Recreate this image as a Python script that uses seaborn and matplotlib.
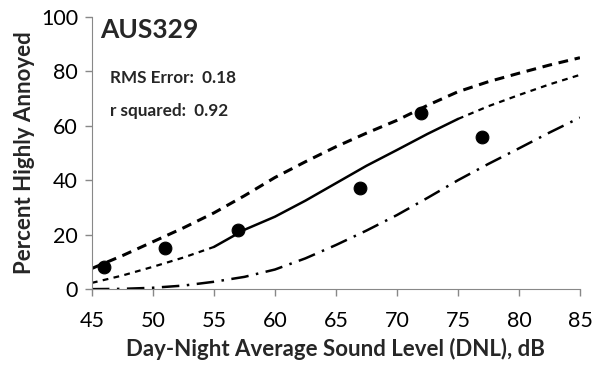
import numpy as np
import pandas as pd
import matplotlib
matplotlib.use("Agg")
import matplotlib.pyplot as plt
import seaborn as sns

# survey points (DNL dB, % highly annoyed)
obs_dnl = [46, 51, 57, 67, 72, 77]
obs_pha = [8.0, 15.2, 21.7, 37.2, 64.8, 56.0]

# fitted curve and bounds, read every 2.5 dB
curve_dnl = [45, 47.5, 50, 52.5, 55, 57.5, 60, 62.5, 65, 67.5, 70,
             72.5, 75, 77.5, 80, 82.5, 85]
fit_pha = [2.3, 5.0, 8.2, 11.6, 15.5, 21.8, 26.6, 32.5, 38.9, 45.3, 51.1,
           57.0, 62.5, 67.2, 71.3, 75.2, 78.7]
upper_pha = [7.6, 12.3, 17.4, 22.5, 28.0, 34.3, 41.0, 46.8, 52.3, 57.3, 62.0,
             67.5, 72.5, 76.2, 79.3, 82.3, 85.0]
lower_pha = [0.0, 0.1, 0.5, 1.3, 2.7, 4.5, 7.2, 11.3, 16.2, 21.5, 27.2,
             33.5, 40.0, 46.0, 51.7, 57.5, 63.0]

# solid part of the fit covers the range of the data
solid_lo, solid_hi = 55, 75

sns.set_style("ticks")
plt.rcParams['font.family'] = ['Lato', 'DejaVu Sans']

fig = plt.figure(figsize=(5.93, 3.75), dpi=100)
ax = fig.add_axes([0.155, 0.229, 0.823, 0.726])

curves = pd.DataFrame({"dnl": curve_dnl, "fit": fit_pha,
                       "upper": upper_pha, "lower": lower_pha})
solid = curves[(curves.dnl >= solid_lo) & (curves.dnl <= solid_hi)]

sns.lineplot(data=curves, x="dnl", y="upper", ax=ax, color="black",
             lw=2.2, linestyle=(0, (3.2, 2.2)))
sns.lineplot(data=curves[curves.dnl <= solid_lo], x="dnl", y="fit", ax=ax,
             color="black", lw=1.6, linestyle=(0, (2.6, 2.4)))
sns.lineplot(data=curves[curves.dnl >= solid_hi], x="dnl", y="fit", ax=ax,
             color="black", lw=1.6, linestyle=(0, (2.6, 2.4)))
sns.lineplot(data=solid, x="dnl", y="fit", ax=ax, color="black", lw=1.8)
sns.lineplot(data=curves, x="dnl", y="lower", ax=ax, color="black",
             lw=1.8, linestyle=(0, (7, 3, 1, 3)))
sns.scatterplot(x=obs_dnl, y=obs_pha, ax=ax, color="black", s=85,
                edgecolor="black", zorder=5)

ax.set_xlim(45, 85)
ax.set_ylim(0, 100)
ax.set_xticks(range(45, 90, 5))
ax.set_yticks(range(0, 120, 20))
ax.tick_params(labelsize=15.5, colors="#888888", labelcolor="black",
               length=5, width=1)
ax.tick_params(axis="x", pad=11)
ax.tick_params(axis="y", pad=5)
for side in ["left", "bottom"]:
    ax.spines[side].set_color("#888888")
sns.despine(ax=ax)

ax.set_xlabel("Day-Night Average Sound Level (DNL), dB", fontsize=16,
              fontweight="bold", labelpad=5)
ax.set_ylabel("Percent Highly Annoyed", fontsize=16, fontweight="bold",
              labelpad=4)

ax.text(0.016, 0.95, "AUS329", transform=ax.transAxes, fontsize=19,
        fontweight="bold", va="center")
ax.text(0.037, 0.776, "RMS Error:  0.18", transform=ax.transAxes,
        fontsize=12.3, fontweight="bold", va="center")
ax.text(0.037, 0.654, "r squared:  0.92", transform=ax.transAxes,
        fontsize=12.3, fontweight="bold", va="center")

fig.savefig("out.png", dpi=100)
